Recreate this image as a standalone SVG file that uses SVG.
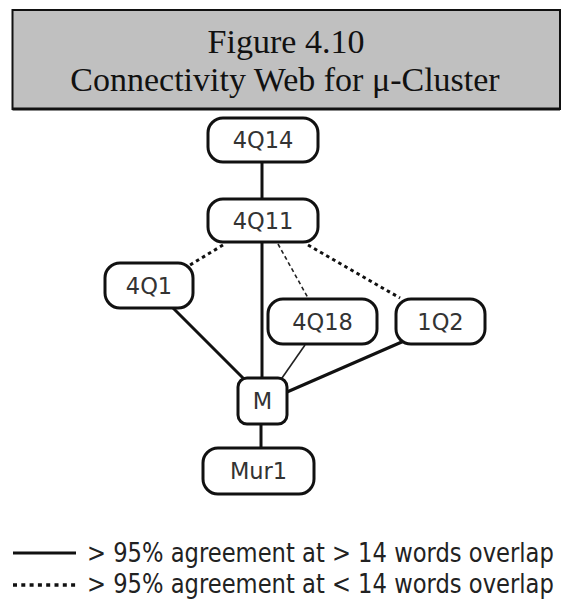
<svg xmlns="http://www.w3.org/2000/svg" width="567" height="599" viewBox="0 0 567 599">
  <style>
    .title { font-family: "Liberation Serif", "Times New Roman", serif; font-size: 34px; fill: #111; text-anchor: middle; }
    .node rect { fill: #ffffff; stroke: #111; stroke-width: 3; }
    .node text { font-family: "DejaVu Sans", Verdana, sans-serif; font-size: 22.5px; fill: #333; text-anchor: middle; }
    .solid { stroke: #111; stroke-width: 3; fill: none; }
    .thin { stroke: #222; stroke-width: 1.6; fill: none; }
    .dotted { stroke: #111; stroke-width: 3; fill: none; stroke-dasharray: 3.5 3.5; }
    .thindot { stroke: #222; stroke-width: 1.6; fill: none; stroke-dasharray: 4 3; }
    .legend { font-family: "DejaVu Sans", Verdana, sans-serif; font-size: 26px; fill: #222; }
  </style>

  <rect width="567" height="599" fill="#ffffff"/>

  <!-- caption block -->
  <g id="caption">
    <rect x="12.5" y="10" width="547.5" height="99" fill="#c0c0c0" stroke="#111" stroke-width="2"/>
    <line x1="12.5" y1="109" x2="560" y2="109" stroke="#111" stroke-width="3"/>
    <text class="title" x="286" y="53">Figure 4.10</text>
    <text class="title" x="285" y="91">Connectivity Web for μ-Cluster</text>
  </g>

  <!-- connectors -->
  <g id="connectors">
    <line class="solid" x1="262" y1="162" x2="262" y2="199"/>
    <line class="solid" x1="262" y1="242" x2="262" y2="378"/>
    <line class="solid" x1="173" y1="308" x2="244" y2="379"/>
    <line class="thin" x1="305" y1="345" x2="282" y2="378"/>
    <line class="solid" x1="404" y1="341" x2="287" y2="392"/>
    <line class="solid" x1="261" y1="424" x2="261" y2="448"/>
    <line class="dotted" x1="223" y1="245" x2="190" y2="265"/>
    <line class="thindot" x1="278" y1="244" x2="308" y2="298"/>
    <line class="dotted" x1="308" y1="245" x2="400" y2="298"/>
  </g>

  <!-- nodes -->
  <g id="n4Q14" class="node">
    <rect x="208" y="118" width="110" height="44" rx="15"/>
    <text x="263" y="148">4Q14</text>
  </g>
  <g id="n4Q11" class="node">
    <rect x="208" y="199" width="110" height="43" rx="15"/>
    <text x="263" y="228.5">4Q11</text>
  </g>
  <g id="n4Q1" class="node">
    <rect x="105" y="263" width="88" height="45" rx="15"/>
    <text x="149" y="293.5">4Q1</text>
  </g>
  <g id="n4Q18" class="node">
    <rect x="268" y="299" width="109" height="45" rx="15"/>
    <text x="322.5" y="329.5">4Q18</text>
  </g>
  <g id="n1Q2" class="node">
    <rect x="396" y="299" width="89" height="45" rx="15"/>
    <text x="440.5" y="329.5">1Q2</text>
  </g>
  <g id="nM" class="node">
    <rect x="238" y="378" width="49" height="46" rx="9"/>
    <text x="262.5" y="409">M</text>
  </g>
  <g id="nMur1" class="node">
    <rect x="203" y="448" width="111" height="46" rx="15"/>
    <text x="258.5" y="479">Mur1</text>
  </g>

  <!-- key: labels are narrowed horizontally to a condensed width -->
  <g id="key">
    <line class="solid" x1="13" y1="553" x2="76" y2="553"/>
    <text class="legend" transform="translate(87,562) scale(0.871,1)">&gt; 95% agreement at &gt; 14 words overlap</text>
    <line x1="13" y1="585" x2="76" y2="585" stroke="#111" stroke-width="3.5" stroke-dasharray="4 4.3"/>
    <text class="legend" transform="translate(87,593) scale(0.871,1)">&gt; 95% agreement at &lt; 14 words overlap</text>
  </g>
</svg>
